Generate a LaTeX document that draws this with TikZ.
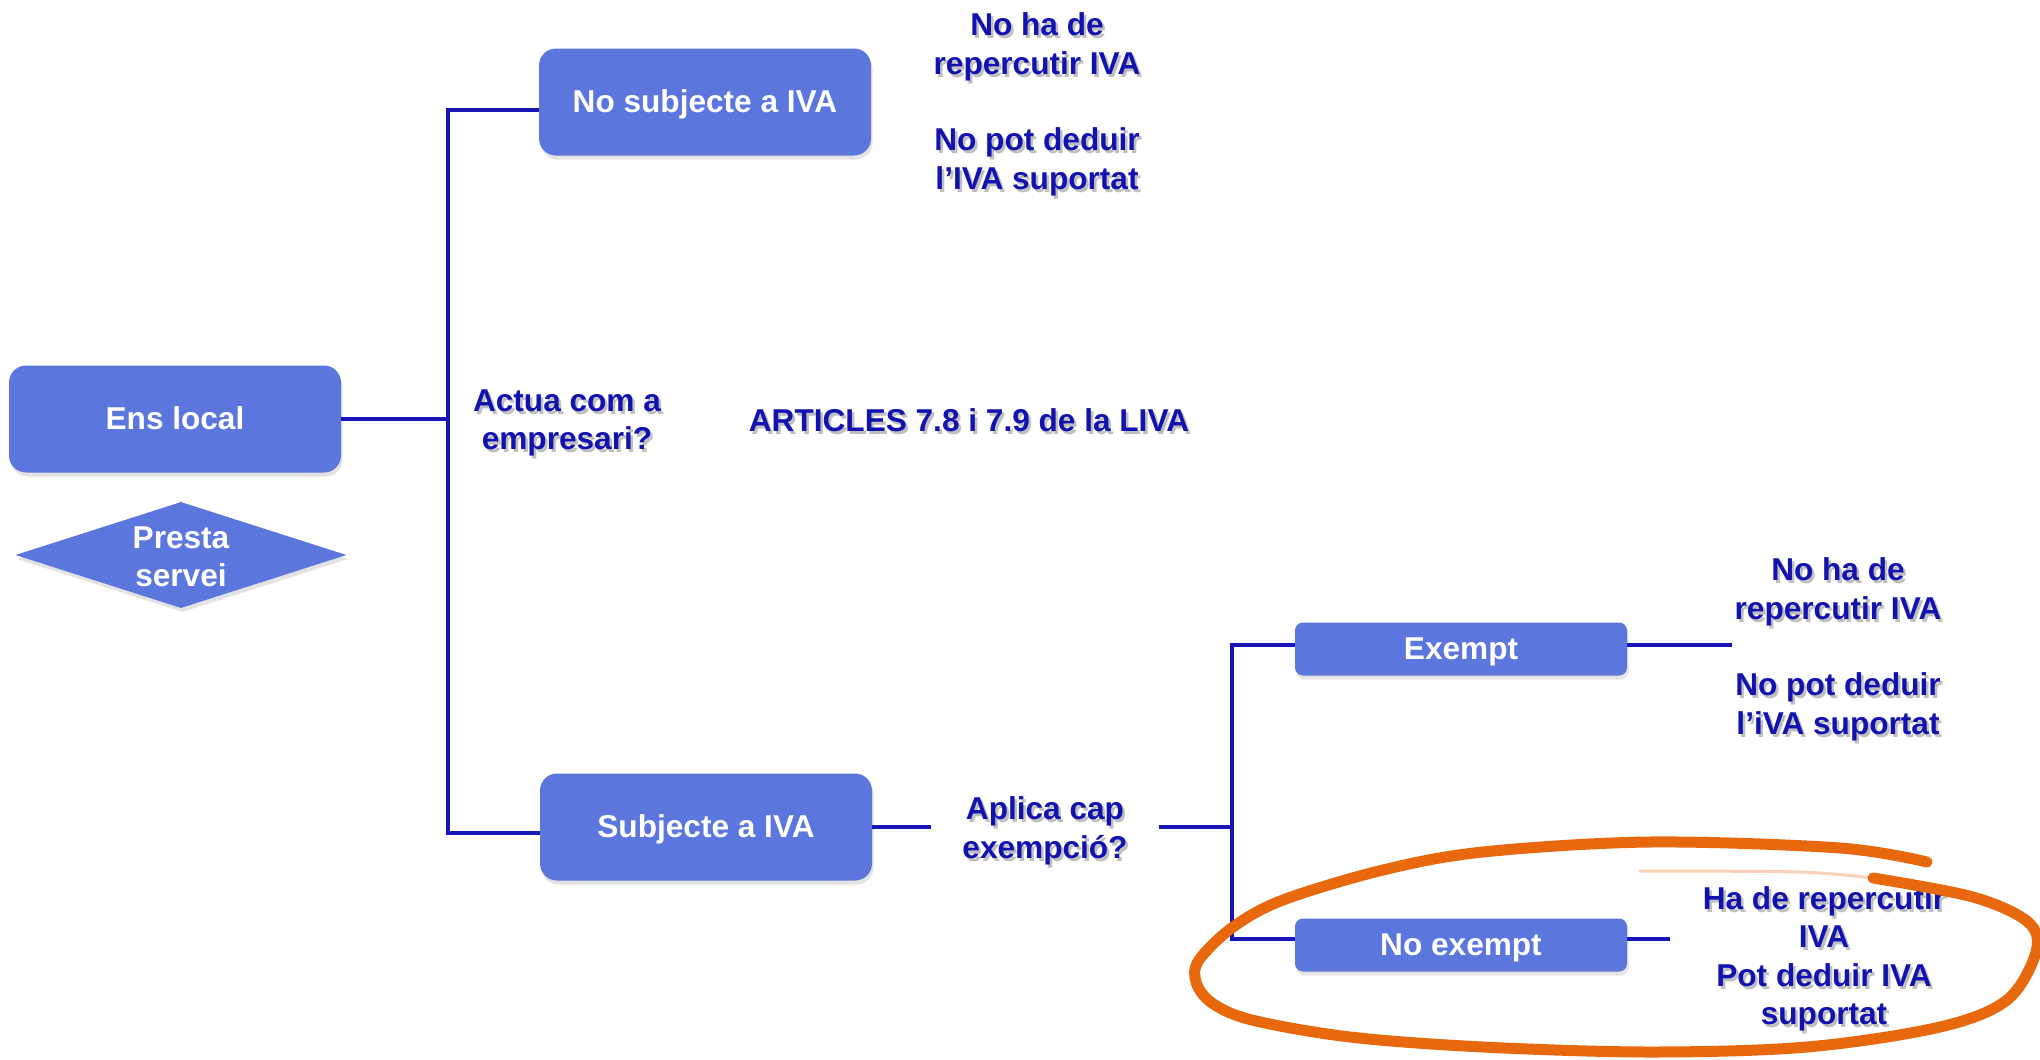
\documentclass[tikz,border=0pt]{standalone}
\usepackage{fontspec}
\setmainfont{Liberation Sans}
\usetikzlibrary{shapes.geometric,shadows}

\definecolor{boxfill}{RGB}{91,118,220}
\definecolor{linkblue}{RGB}{22,22,184}
\definecolor{inkblue}{RGB}{18,18,176}
\definecolor{marker}{RGB}{232,104,14}

\tikzset{
  base/.style={font=\fontsize{31.6}{38.5}\selectfont\bfseries, align=center},
  boxshadow/.style={drop shadow={shadow xshift=1.5pt, shadow yshift=-4pt, opacity=.22}},
  bigbox/.style={base, rectangle, rounded corners=17pt, fill=boxfill, text=white,
    minimum width=332pt, minimum height=107pt, inner sep=0pt,
    text height=28.6pt, text depth=6.7pt, boxshadow},
  smallbox/.style={bigbox, rounded corners=8pt, minimum height=53pt},
  qtext/.style={base, text=inkblue, inner sep=0pt},
  link/.style={draw=linkblue, line width=3.5pt},
  markerstroke/.style={draw=marker, line width=11pt, line cap=round, line join=round},
}

% blue label with a soft shadow underneath
\newcommand\bluelabel[4][]{%
  \node[qtext, text=black, text opacity=.25, #1] at ([shift={(2.5,3)}]#3) {#4};
  \node[qtext, #1] (#2) at (#3) {#4};
}

\begin{document}
\begin{tikzpicture}[x=1pt,y=-1pt]
\useasboundingbox (0,0) rectangle (2040,1060);
\fill[white] (0,0) rectangle (2040,1060);

% boxes
\node[bigbox] (ens) at (175,419) {Ens local};
\node[diamond, fill=boxfill, minimum width=331pt, minimum height=106pt,
      inner sep=0pt, boxshadow] (presta) at (181,555) {};
\node[base, text=white] (prestatext) at ([yshift=-2pt]presta.center) {Presta\\servei};
\node[bigbox] (nosub) at (705,102) {No subjecte a IVA};
\node[bigbox] (sub) at (706,827) {Subjecte a IVA};
\node[smallbox] (exempt) at (1461,649) {Exempt};
\node[smallbox] (noex) at (1461,945) {No exempt};

% labels
\bluelabel{nohade}{1037,47}{No ha de\\repercutir IVA}
\bluelabel{nopot}{1037,162}{No pot deduir\\l’IVA suportat}
\bluelabel{actua}{567,423}{Actua com a\\empresari?}
\bluelabel{articles}{969,420}{ARTICLES 7.8 i 7.9 de la LIVA}
\bluelabel[minimum width=228pt]{aplica}{1045,831}{Aplica cap\\exempció?}
\bluelabel{nohadeb}{1838,592}{No ha de\\repercutir IVA}
\bluelabel{nopotb}{1838,707}{No pot deduir\\l’iVA suportat}
\bluelabel{hade}{1824,959}{Ha de repercutir\\IVA\\Pot deduir IVA\\suportat}

% tree connectors
\coordinate (t1) at (448,110);
\coordinate (t2) at (448,833);
\draw[link] (ens.east) -- (ens.east -| t1);
\draw[link] (t1 -| nosub.west) -- (t1) -- (t2) -- (t2 -| sub.west);
\draw[link] (sub.east) -- (sub.east -| aplica.west);

\coordinate (v1) at (1232,645);
\coordinate (v2) at (1232,939);
\draw[link] (v1 |- sub.east) -- (aplica.east |- sub.east);
\draw[link] (v1 -| exempt.west) -- (v1) -- (v2) -- (v2 -| noex.west);
\coordinate (exend) at (1732,645);
\coordinate (noexend) at (1670,939);
\draw[link] (v1 -| exempt.east) -- (exend);
\draw[link] (v2 -| noex.east) -- (noexend);

% hand-drawn highlight loop
\draw[markerstroke] plot[smooth, tension=0.55] coordinates {
  (1927,862) (1840,848) (1650,842) (1483,852) (1383,870) (1283,900)
  (1233,927) (1199,960) (1196,982) (1212,1003) (1252,1020) (1350,1037)
  (1483,1047) (1650,1052) (1807,1047) (1940,1027) (2007,1000) (2036,952)
  (2028,922) (1973,897) (1873,878)};
\draw[draw=marker, line width=3pt, opacity=.3, line cap=round]
  plot[smooth] coordinates {(1873,878) (1800,872) (1640,871)};
\end{tikzpicture}
\end{document}
